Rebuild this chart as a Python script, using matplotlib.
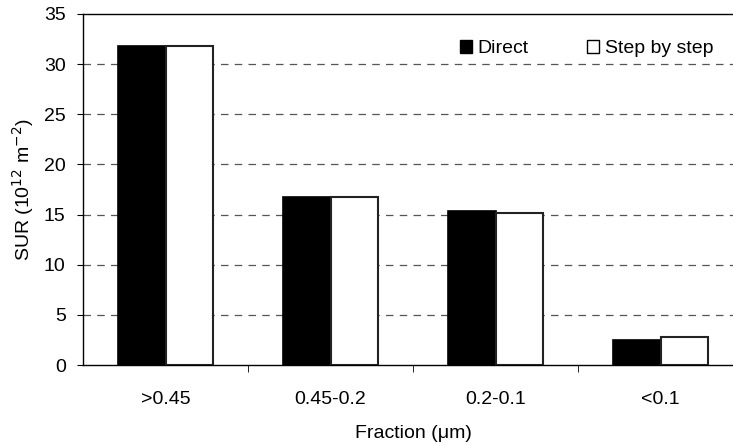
import matplotlib.pyplot as plt
import numpy as np
from matplotlib.patches import Patch

plt.rcParams['font.family'] = ['Liberation Sans', 'DejaVu Sans']

fractions = ['>0.45', '0.45-0.2', '0.2-0.1', '<0.1']
direct = [31.8, 16.8, 15.35, 2.45]
step_by_step = [31.8, 16.8, 15.2, 2.75]

fig = plt.figure(figsize=(7.33, 4.45), dpi=100)
# the original chart is cropped on the right, so the axes run past the figure edge
ax = fig.add_axes([83/733, 1-365/445, 660/733, 351/445])

x = np.arange(len(fractions))
w = 0.29
ax.bar(x - w/2, direct, w, color='black', edgecolor='black', linewidth=1.2, zorder=3)
ax.bar(x + w/2, step_by_step, w, color='white', edgecolor='#222222', linewidth=1.5, zorder=3)

ax.set_xlim(-0.5, 3.5)
ax.set_ylim(0, 35)
ax.set_yticks(range(0, 36, 5))
ax.set_xticks(x)
ax.set_xticklabels(fractions)
ax.tick_params(axis='x', length=0, pad=19, labelsize=14)
ax.set_xticks([0.5, 1.5, 2.5], minor=True)
ax.tick_params(axis='x', which='minor', length=5, direction='out')
ax.tick_params(axis='y', length=4.5, direction='out', labelsize=14, pad=8)

for y in range(5, 31, 5):
    ax.axhline(y, color='#555555', linestyle=(0, (6, 5)), linewidth=0.9, zorder=1)

for s in ax.spines.values():
    s.set_linewidth(1.0)

ax.set_ylabel('SUR (10$^{12}$ m$^{-2}$)', fontsize=14, labelpad=6)
ax.set_xlabel('Fraction (\u03bcm)', fontsize=14, labelpad=12)

handles = [Patch(facecolor='black', edgecolor='black'),
           Patch(facecolor='white', edgecolor='black')]
ax.legend(handles, ['Direct', 'Step by step'], ncol=2, frameon=False,
          fontsize=14, handlelength=0.6, handleheight=0.6, handletextpad=0.3,
          columnspacing=3.0, loc='upper left', bbox_to_anchor=(0.545, 0.975))

fig.savefig('out.png', dpi=100)
